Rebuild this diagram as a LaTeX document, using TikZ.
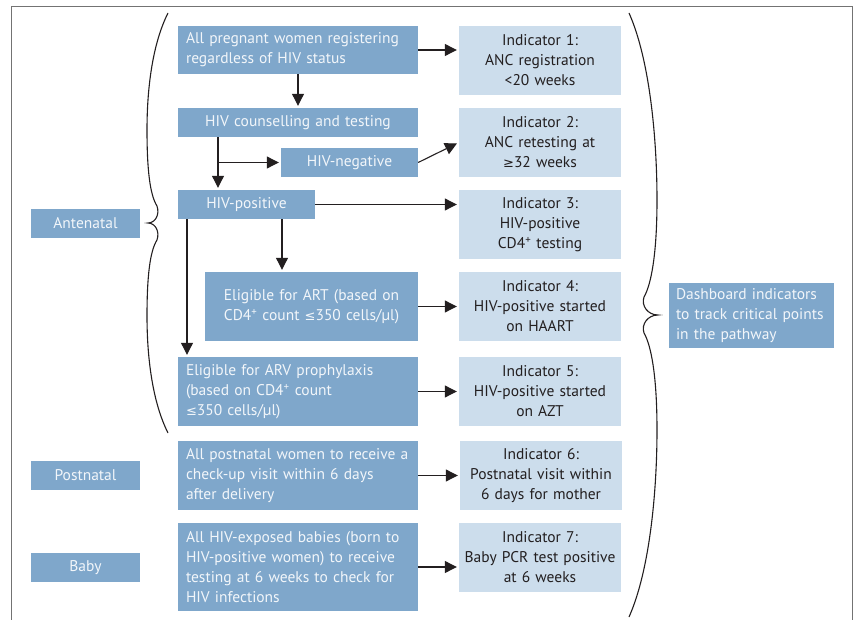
\documentclass[tikz,border=0pt]{standalone}
\usepackage{fontspec}
\setmainfont{PT Sans}
\newfontfamily\symf{DejaVu Sans}
\usetikzlibrary{arrows.meta}
\definecolor{pw_blue}{RGB}{127,167,203}
\definecolor{ind_blue}{RGB}{204,221,236}
\definecolor{ink}{RGB}{35,31,32}
\definecolor{paper}{RGB}{242,246,250}
\tikzstyle{pw}=[rectangle,fill=pw_blue,text=paper,inner xsep=8pt,inner ysep=0pt,
  font=\fontsize{15.5}{20}\selectfont]
\tikzstyle{stg}=[pw,text width=93pt,minimum height=29pt,align=center]
\tikzstyle{ind}=[rectangle,fill=ind_blue,text=ink,inner xsep=3pt,inner ysep=0pt,
  text width=156pt,minimum height=69pt,align=center,font=\fontsize{15.5}{20}\selectfont]
\tikzstyle{arr}=[draw=ink,line width=1.1pt,-{Triangle[length=12pt,width=12pt]},shorten >=2pt]
\tikzstyle{brace}=[draw=ink,line width=1.1pt]
\tikzstyle{frame}=[draw=black!55,line width=1pt]
\newcommand{\cdf}{CD4\textsuperscript{+}}
\newcommand{\symle}{{\symf\fontsize{13}{20}\selectfont ≤}}
\newcommand{\symge}{{\symf\fontsize{13}{20}\selectfont ≥}}

\begin{document}
\begin{tikzpicture}[x=1pt,y=-1pt]
    \useasboundingbox (0,0) rectangle (854,620);
    \draw [style=frame] (11,620) -- (11,7) -- (852,7) -- (852,620);
    % stages
    \node [style=stg] (ante) at (85.5,223.5) {Antenatal};
    \node [style=stg] (post) at (85.5,475.5) {Postnatal};
    \node [style=stg] (bab) at (85.5,567.5) {Baby};
    % pathway
    \node [style=pw,text width=224pt,minimum height=48pt,align=left] (reg) at (298,50)
      {All pregnant women registering\\regardless of HIV status};
    \node [style=pw,text width=224pt,minimum height=29pt,align=center] (hct) at (298,122.5)
      {HIV counselling and testing};
    \node [style=pw,text width=121pt,minimum height=29pt,align=center] (neg) at (349.5,162.5)
      {HIV-negative};
    \node [style=pw,text width=121pt,minimum height=29pt,align=center] (pos) at (246.5,204.5)
      {HIV-positive};
    \node [style=pw,text width=197pt,minimum height=69pt,align=center] (art) at (311.5,306.5)
      {Eligible for ART (based on\\\cdf{} count \symle350 cells/µl)};
    \node [style=pw,text width=224pt,minimum height=69pt,align=left] (arv) at (298,391.5)
      {Eligible for ARV prophylaxis\\(based on \cdf{} count\\\symle350 cells/µl)};
    \node [style=pw,text width=224pt,minimum height=69pt,align=left] (pnv) at (298,475.5)
      {All postnatal women to receive a\\check-up visit within 6 days\\after delivery};
    \node [style=pw,text width=224pt,minimum height=88pt,align=left] (baby) at (298,567)
      {All HIV-exposed babies (born to\\HIV-positive women) to receive\\testing at 6 weeks to check for\\HIV infections};
    % indicators
    \node [style=ind] (ind1) at (540,60.5) {Indicator 1:\\ANC registration\\<20 weeks};
    \node [style=ind] (ind2) at (540,142.5) {Indicator 2:\\ANC retesting at\\\symge32 weeks};
    \node [style=ind] (ind3) at (540,224.5) {Indicator 3:\\HIV-positive\\\cdf{} testing};
    \node [style=ind] (ind4) at (540,306.5) {Indicator 4:\\HIV-positive started\\on HAART};
    \node [style=ind] (ind5) at (540,391.5) {Indicator 5:\\HIV-positive started\\on AZT};
    \node [style=ind] (ind6) at (541,475.5) {Indicator 6:\\Postnatal visit within\\6 days for mother};
    \node [style=ind] (ind7) at (540,557.5) {Indicator 7:\\Baby PCR test positive\\at 6 weeks};
    \node [style=pw,text width=151pt,inner xsep=7pt,minimum height=65pt,align=left] (dash) at (751.5,315.5)
      {Dashboard indicators\\to track critical points\\in the pathway};
    % arrows
    \coordinate (split) at ([xshift=-80pt]hct.south |- neg.west);
    \draw [style=arr] (reg) -- (hct);
    \draw [style=arr] ([xshift=-80pt]hct.south) -- ([xshift=-80pt]hct.south |- pos.north);
    \draw [style=arr] (split) -- (neg.west);
    \draw [style=arr] ([xshift=35.5pt]pos.south) -- ([xshift=35.5pt]pos.south |- art.north);
    \draw [style=arr] ([xshift=-59.5pt]pos.south) -- ([xshift=-59.5pt]pos.south |- arv.north);
    \draw [style=arr] (reg.east) -- (reg.east -| ind1.west);
    \draw [style=arr] (neg.east) -- (ind2.west);
    \draw [style=arr] (pos.east) -- (pos.east -| ind3.west);
    \draw [style=arr] (art.east) -- (ind4.west);
    \draw [style=arr] (arv.east) -- (ind5.west);
    \draw [style=arr] (pnv.east) -- (ind6.west);
    \draw [style=arr] (baby.east) -- (baby.east -| ind7.west);
    % braces
    \draw [style=brace] (168,13) .. controls (152,45) and (147,90) .. (147,130)
      .. controls (147,170) and (150,195) .. (157,206)
      .. controls (160,215) and (155,223) .. (148,223)
      .. controls (155,223) and (160,231) .. (157,240)
      .. controls (150,251) and (147,276) .. (147,316)
      .. controls (147,356) and (152,401) .. (168,433);
    \draw [style=brace] (629,13) .. controls (650,60) and (657,140) .. (657,200)
      .. controls (657,255) and (651,285) .. (644,297)
      .. controls (641,306) and (648,315) .. (658,315)
      .. controls (648,315) and (641,324) .. (644,333)
      .. controls (651,345) and (657,375) .. (657,430)
      .. controls (657,490) and (650,570) .. (629,617);
\end{tikzpicture}
\end{document}
